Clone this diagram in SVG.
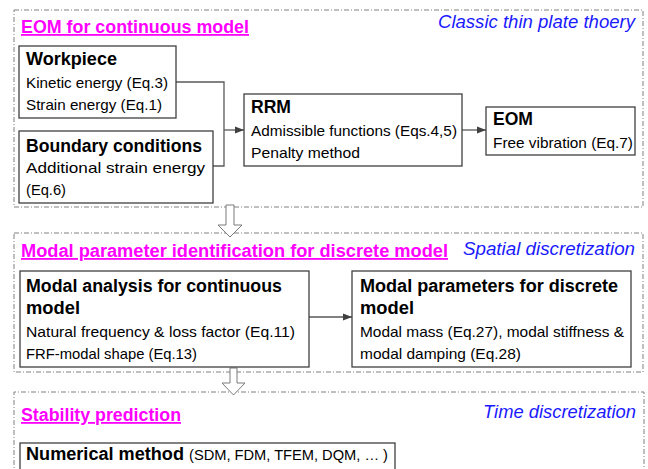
<svg xmlns="http://www.w3.org/2000/svg" width="648" height="469" viewBox="0 0 648 469">
<defs>
<style>
text{font-family:"Liberation Sans",Arial,sans-serif;fill:#000}
.frame{fill:none;stroke:#808080;stroke-width:1;stroke-dasharray:5 2 1 2}
.box{fill:#fff;stroke:#404040;stroke-width:1.3}
.h{font-weight:bold;font-size:18px}
.b{font-size:15px}
.title{font-weight:bold;font-size:18px;fill:#ff00ff;text-decoration:underline}
.note{font-style:italic;font-size:17.5px;fill:#1a1aff;text-anchor:end}
.conn{fill:none;stroke:#595959;stroke-width:1.3}
.block{fill:#fff;stroke:#7a7a7a;stroke-width:1}
</style>
<marker id="ah" markerWidth="10" markerHeight="8" refX="9" refY="4" orient="auto" markerUnits="userSpaceOnUse">
<path d="M0,0.5 L9,4 L0,7.5 Z" fill="#404040"/>
</marker>
</defs>

<g id="frame-eom">
<rect class="frame" x="14" y="10" width="629" height="197"/>
<text class="title" x="21" y="33" textLength="228" lengthAdjust="spacingAndGlyphs">EOM for continuous model</text>
<text class="note" x="635" y="28" textLength="197" lengthAdjust="spacingAndGlyphs">Classic thin plate thoery</text>
</g>

<g id="frame-modal">
<rect class="frame" x="14" y="233" width="629" height="139"/>
<text class="title" x="21" y="257" textLength="427" lengthAdjust="spacingAndGlyphs">Modal parameter identification for discrete model</text>
<text class="note" x="635" y="255" textLength="172" lengthAdjust="spacingAndGlyphs">Spatial discretization</text>
</g>

<g id="frame-stability">
<path class="frame" d="M14,475 V392 H644 V475"/>
<text class="title" x="21" y="421" textLength="160" lengthAdjust="spacingAndGlyphs">Stability prediction</text>
<text class="note" x="636" y="418" textLength="153" lengthAdjust="spacingAndGlyphs">Time discretization</text>
</g>

<g id="connectors">
<polyline class="conn" points="176,82 224,82 224,166 213,166"/>
<line class="conn" x1="224" y1="130" x2="244" y2="130" marker-end="url(#ah)"/>
<line class="conn" x1="462" y1="130" x2="486" y2="130" marker-end="url(#ah)"/>
<line class="conn" x1="309" y1="317" x2="352" y2="317" marker-end="url(#ah)"/>
<path class="block" d="M226,205 H234 V225 H242 L230,237 L218,225 H226 Z"/>
<path class="block" d="M230,368 H237 V383 H245 L233.5,395 L222,383 H230 Z"/>
</g>

<g id="workpiece">
<rect class="box" x="19" y="46" width="157" height="72"/>
<text class="h" x="26" y="65" textLength="91" lengthAdjust="spacingAndGlyphs">Workpiece</text>
<text class="b" x="26" y="88" textLength="142" lengthAdjust="spacingAndGlyphs">Kinetic energy (Eq.3)</text>
<text class="b" x="26" y="110" textLength="136" lengthAdjust="spacingAndGlyphs">Strain energy (Eq.1)</text>
</g>

<g id="boundary">
<rect class="box" x="19" y="131" width="194" height="72"/>
<text class="h" x="26" y="152" textLength="176" lengthAdjust="spacingAndGlyphs">Boundary conditions</text>
<text class="b" x="26" y="173" textLength="179" lengthAdjust="spacingAndGlyphs">Additional strain energy</text>
<text class="b" x="26" y="195" textLength="40" lengthAdjust="spacingAndGlyphs">(Eq.6)</text>
</g>

<g id="rrm">
<rect class="box" x="244" y="94" width="218" height="72"/>
<text class="h" x="251" y="113" textLength="40" lengthAdjust="spacingAndGlyphs">RRM</text>
<text class="b" x="251" y="136" textLength="206" lengthAdjust="spacingAndGlyphs">Admissible functions (Eqs.4,5)</text>
<text class="b" x="251" y="158" textLength="109" lengthAdjust="spacingAndGlyphs">Penalty method</text>
</g>

<g id="eom">
<rect class="box" x="486" y="107" width="149" height="48"/>
<text class="h" x="493" y="125" textLength="40" lengthAdjust="spacingAndGlyphs">EOM</text>
<text class="b" x="493" y="148" textLength="140" lengthAdjust="spacingAndGlyphs">Free vibration (Eq.7)</text>
</g>

<g id="modal-analysis">
<rect class="box" x="20" y="271" width="289" height="96"/>
<text class="h" x="26" y="292" textLength="256" lengthAdjust="spacingAndGlyphs">Modal analysis for continuous</text>
<text class="h" x="26" y="314" textLength="54" lengthAdjust="spacingAndGlyphs">model</text>
<text class="b" x="26" y="337" textLength="269" lengthAdjust="spacingAndGlyphs">Natural frequency &amp; loss factor (Eq.11)</text>
<text class="b" x="26" y="359" textLength="171" lengthAdjust="spacingAndGlyphs">FRF-modal shape (Eq.13)</text>
</g>

<g id="modal-parameters">
<rect class="box" x="352" y="271" width="279" height="96"/>
<text class="h" x="360" y="292" textLength="258" lengthAdjust="spacingAndGlyphs">Modal parameters for discrete</text>
<text class="h" x="360" y="314" textLength="54" lengthAdjust="spacingAndGlyphs">model</text>
<text class="b" x="360" y="337" textLength="264" lengthAdjust="spacingAndGlyphs">Modal mass (Eq.27), modal stiffness &amp;</text>
<text class="b" x="360" y="359" textLength="161" lengthAdjust="spacingAndGlyphs">modal damping (Eq.28)</text>
</g>

<g id="numerical-method">
<rect class="box" x="20" y="443" width="375" height="30"/>
<text x="26" y="460"><tspan class="h" textLength="158" lengthAdjust="spacingAndGlyphs">Numerical method</tspan><tspan class="b" dx="5" font-size="13.5" textLength="199" lengthAdjust="spacingAndGlyphs">(SDM, FDM, TFEM, DQM, … )</tspan></text>
</g>
</svg>
